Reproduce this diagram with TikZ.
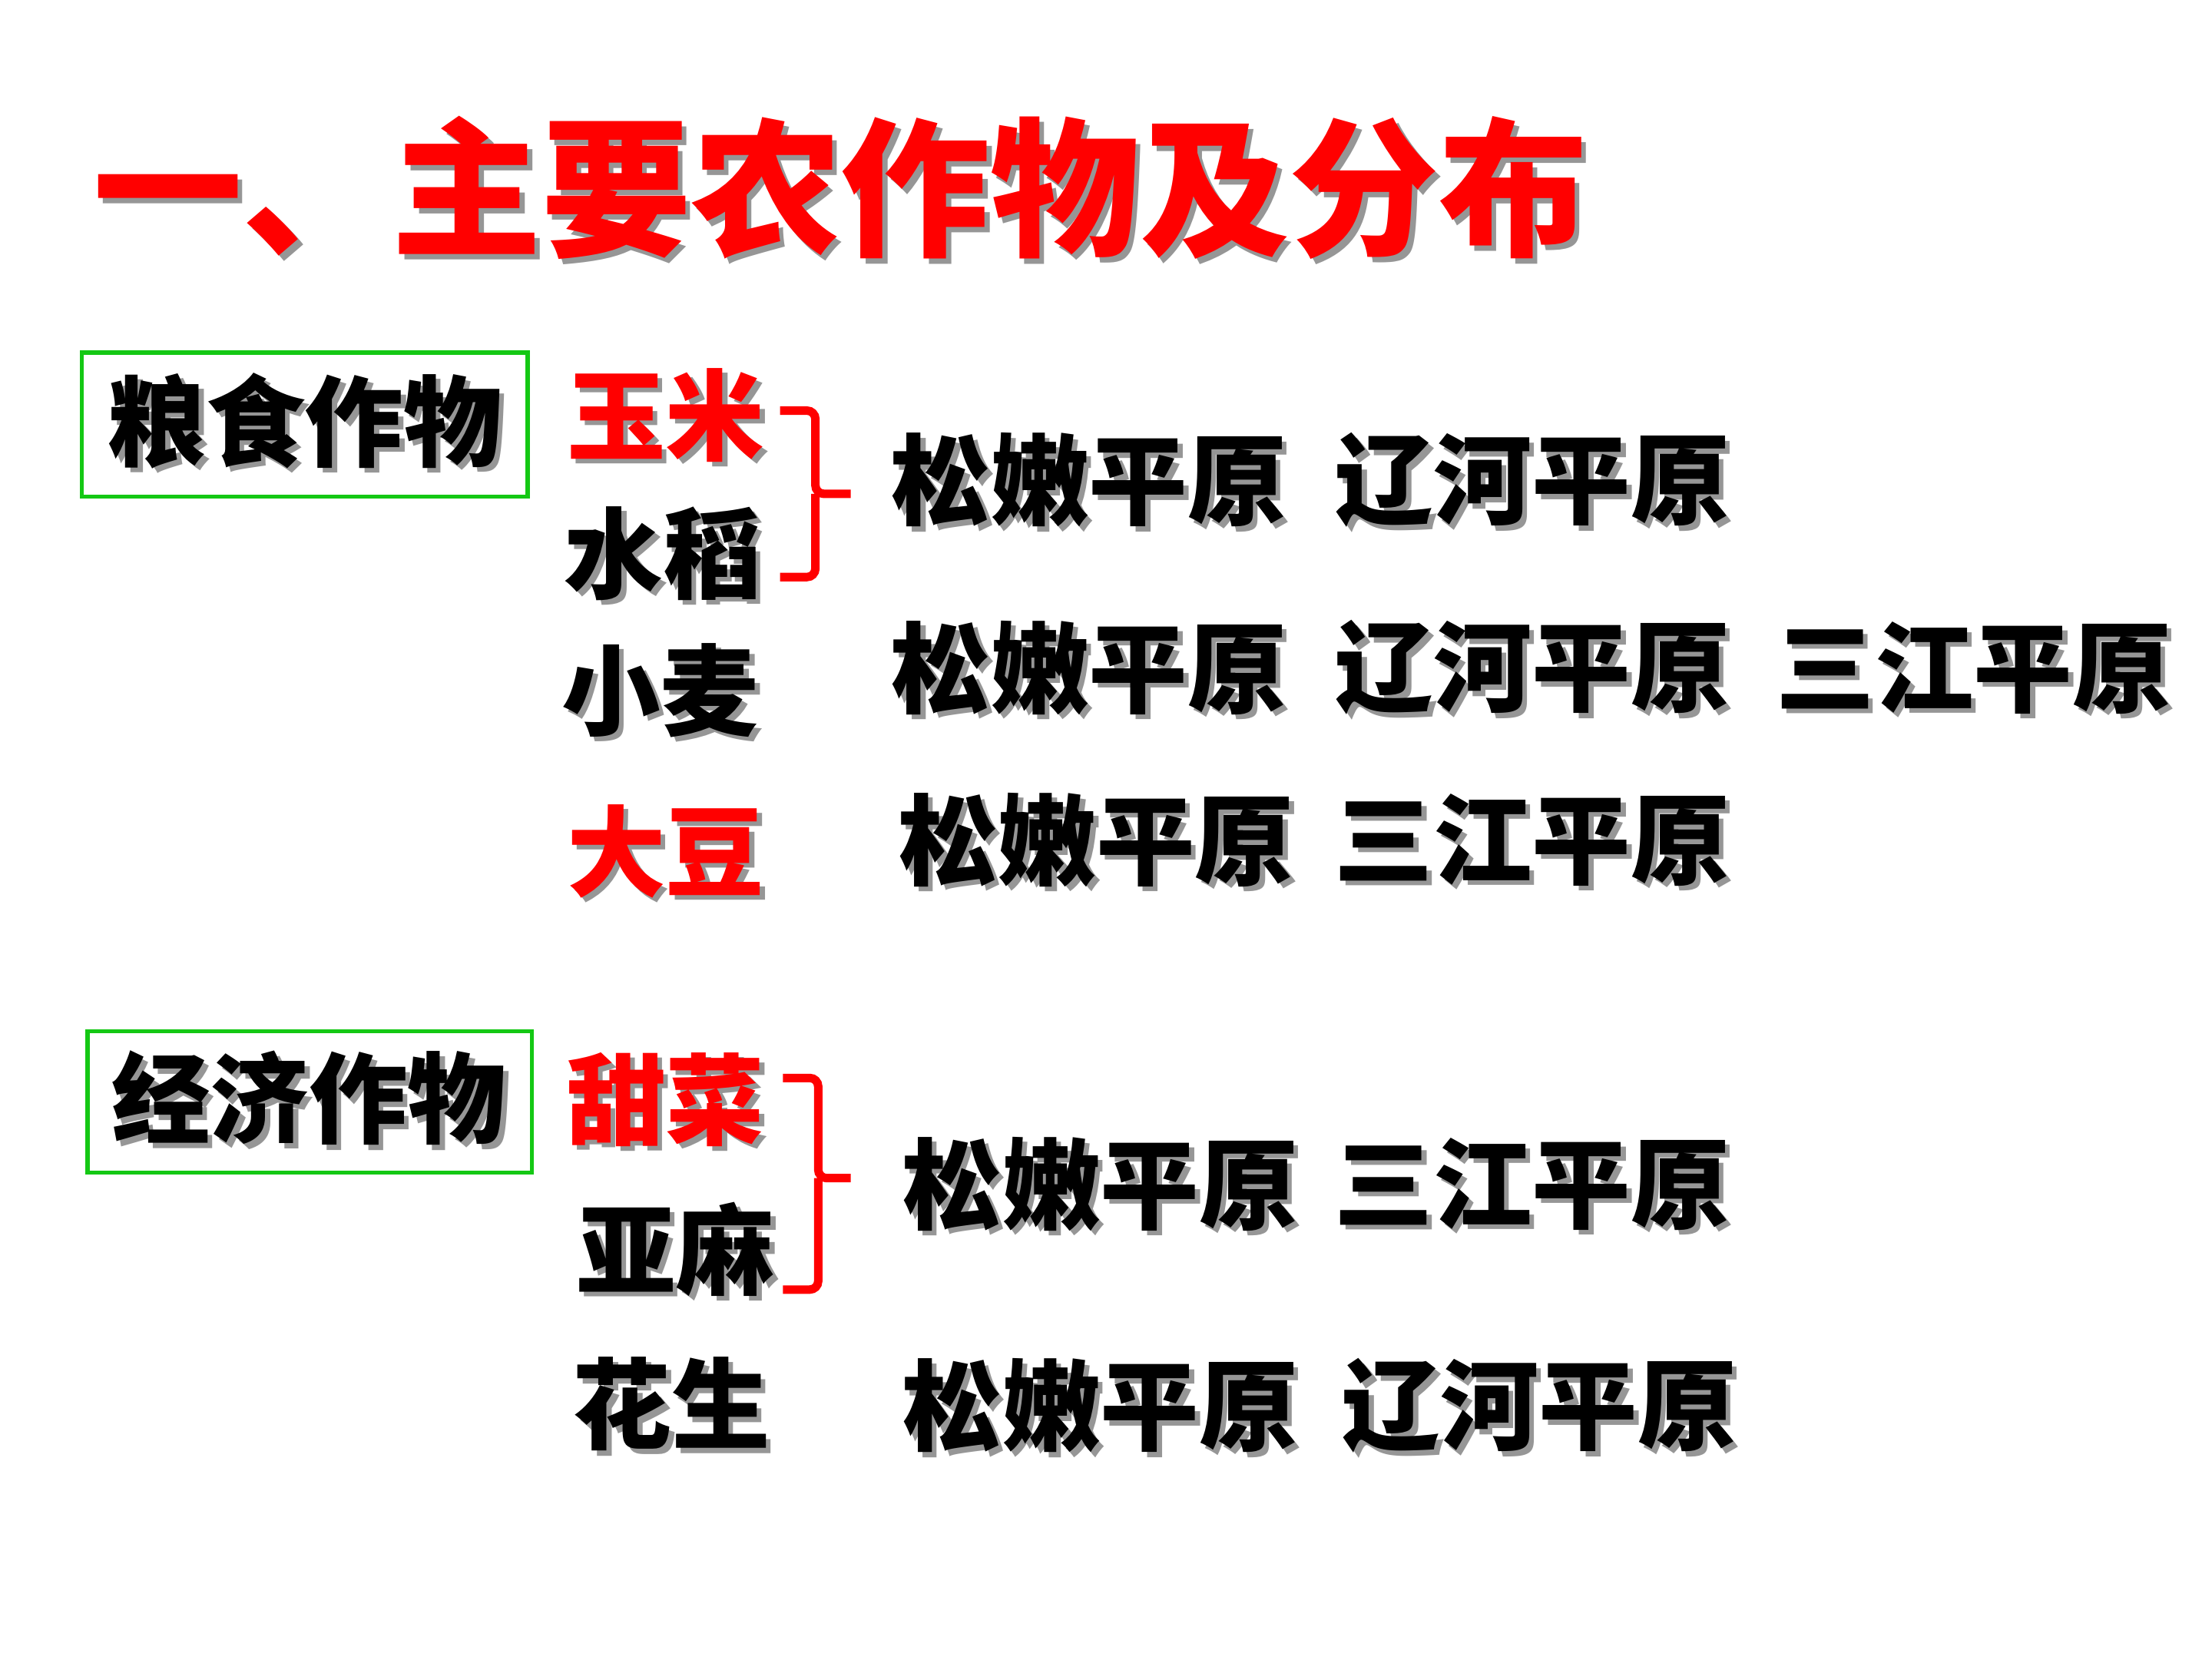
\documentclass[tikz,border=0pt]{standalone}
\usepackage{fontspec}
\newfontfamily\cjk{Noto Sans CJK SC}
\definecolor{titlered}{RGB}{255,0,0}
\definecolor{boxgreen}{RGB}{20,200,20}
\definecolor{shadowgray}{RGB}{150,150,150}
\tikzset{
  base/.style={inner sep=0pt, anchor=center},
  title/.style={base, text=titlered, font=\cjk\bfseries\fontsize{106pt}{110pt}\selectfont},
  label/.style={base, text=black, font=\cjk\bfseries\fontsize{70pt}{74pt}\selectfont},
  redlabel/.style={label, text=titlered},
  catbox/.style={draw=boxgreen, line width=3pt},
  bracket/.style={draw=titlered, line width=6pt, rounded corners=6pt},
}
\newcommand\shtext[1]{\makebox[0pt][l]{\hspace{3.5pt}\raisebox{-3.5pt}{\color{shadowgray}#1}}#1}
\newcommand\shnode[4]{\node[#3] (#1) at #2 {\shtext{#4}};}
\begin{document}
\begin{tikzpicture}[x=1pt,y=-1pt]
\useasboundingbox (0,0) rectangle (1568,1176);
% title
\shnode{title}{(596,135)}{title}{一、主要农作物及分布}
% category boxes
\draw[catbox] (58,250) rectangle (374,352);
\shnode{grain}{(216,300)}{label}{粮食作物}
\draw[catbox] (62,731) rectangle (377,831);
\shnode{cash}{(219,780)}{label}{经济作物}
% crops
\shnode{yumi}{(472,296)}{redlabel}{玉米}
\shnode{shuidao}{(470,394)}{label}{水稻}
\shnode{xiaomai}{(468,491)}{label}{小麦}
\shnode{dadou}{(472,605)}{redlabel}{大豆}
\shnode{tiancai}{(472,781)}{redlabel}{甜菜}
\shnode{yama}{(479,887)}{label}{亚麻}
\shnode{huasheng}{(476,997)}{label}{花生}
% brackets
\coordinate (b1t) at (553,291);
\coordinate (b1b) at (553,409);
\coordinate (b1m) at (603,350);
\draw[bracket] (b1t) -- (578,291) -- (578,350) -- (b1m);
\draw[bracket] (b1b) -- (578,409) -- (578,350);
\coordinate (b2t) at (555,764);
\coordinate (b2b) at (555,914);
\coordinate (b2m) at (603,835);
\draw[bracket] (b2t) -- (580,764) -- (580,835) -- (b2m);
\draw[bracket] (b2b) -- (580,914) -- (580,835);
% regions
\shnode{r1a}{(772,342)}{label}{松嫩平原}
\shnode{r1b}{(1086,342)}{label}{辽河平原}
\shnode{r2a}{(772,475)}{label}{松嫩平原}
\shnode{r2b}{(1086,475)}{label}{辽河平原}
\shnode{r2c}{(1399,475)}{label}{三江平原}
\shnode{r3a}{(777,597)}{label}{松嫩平原}
\shnode{r3b}{(1086,597)}{label}{三江平原}
\shnode{r4a}{(780,841)}{label}{松嫩平原}
\shnode{r4b}{(1086,841)}{label}{三江平原}
\shnode{r5a}{(780,998)}{label}{松嫩平原}
\shnode{r5b}{(1091,998)}{label}{辽河平原}
\end{tikzpicture}
\end{document}
